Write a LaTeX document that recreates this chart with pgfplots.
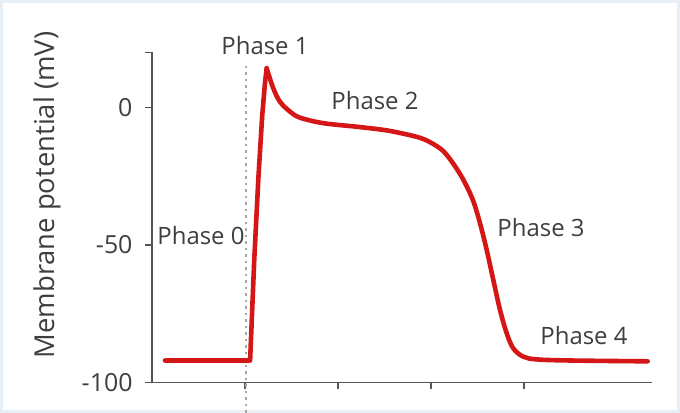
\documentclass[border=0pt]{standalone}
\usepackage{pgfplots}
\pgfplotsset{compat=1.18}
\usepackage{fontspec}
\setmainfont{Open Sans}
\definecolor{curvered}{RGB}{212,22,22}
\definecolor{axgray}{RGB}{85,85,85}
\definecolor{txtgray}{RGB}{62,62,62}
\definecolor{framecol}{RGB}{232,240,246}
\begin{document}
\begin{tikzpicture}
\useasboundingbox (-152bp,-30.5bp) rectangle (528bp,382.5bp);
\draw[framecol, line width=3bp] (-150.5bp,-29bp) rectangle (526.5bp,381bp);
\begin{axis}[
  at={(0,0)}, anchor=south west,
  x=0.93bp, y=2.75bp,
  xmin=0, xmax=537.6, ymin=-100, ymax=20,
  axis lines*=left,
  axis line style={axgray, line width=1.6bp},
  every tick/.style={axgray, line width=1.4bp},
  tick align=outside, major tick length=7bp,
  xtick={100,200,300,400}, xticklabels={},
  ytick={-100,-50,0,20}, yticklabels={-100,-50,0,{}},
  ticklabel style={font=\fontsize{25}{29}\selectfont, text=txtgray},
  yticklabel style={xshift=-9bp},
  ylabel={Membrane potential (mV)},
  ylabel style={at={(axis description cs:-0.21,0.568)}, anchor=center, font=\fontsize{27.5}{32}\selectfont, text=txtgray},
  clip=false,
]
\addplot[gray!70, line width=2.2bp, dash pattern=on 2.5bp off 4bp] coordinates {(101,-111) (101,15)};
\addplot[curvered, line width=4.6bp, line join=round, line cap=round] coordinates {
  (14,-92) (105.5,-92) (110,-55) (114.5,-25) (118.5,-3) (121.5,9) (123.3,14.3)};
\addplot[curvered, line width=4.6bp, line join=round, line cap=round, smooth, tension=0.55] coordinates {
  (123.3,14.3) (130.4,7) (137.6,2.1) (148.4,-1.5) (159.1,-3.7) (184.2,-5.7) (220.1,-7.0)
  (250,-8.2) (270,-9.5) (288,-11.0) (300,-12.8) (312,-15.5) (322,-19.5) (334,-25.8)
  (345,-33.6) (352.7,-42.1) (359.9,-51.8) (367,-62.7) (374.2,-73.6) (381.4,-82.1)
  (388.5,-87.6) (399.2,-90.6) (413.7,-91.6) (450,-92) (533,-92.3)};
\node[font=\fontsize{24}{28}\selectfont, text=txtgray] at (axis cs:121.5,22.4) {Phase 1};
\node[font=\fontsize{24}{28}\selectfont, text=txtgray] at (axis cs:52.7,-46.4) {Phase 0};
\node[font=\fontsize{24}{28}\selectfont, text=txtgray] at (axis cs:239.8,2.7) {Phase 2};
\node[font=\fontsize{24}{28}\selectfont, text=txtgray] at (axis cs:418.3,-43.8) {Phase 3};
\node[font=\fontsize{24}{28}\selectfont, text=txtgray] at (axis cs:464.5,-83.1) {Phase 4};
\end{axis}
\end{tikzpicture}
\end{document}
